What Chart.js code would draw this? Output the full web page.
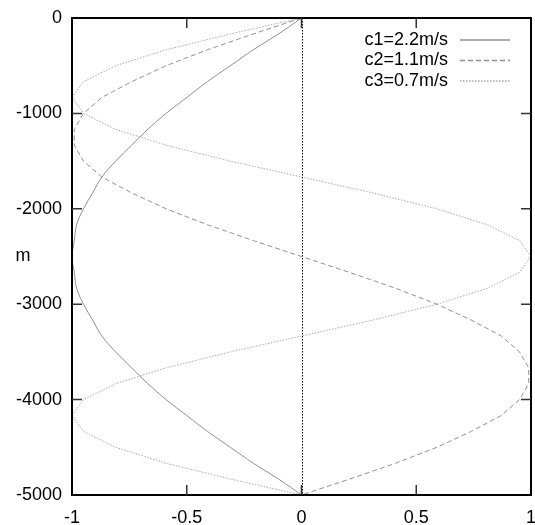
<!DOCTYPE html>
<html>
<head>
<meta charset="utf-8">
<script src="https://cdn.jsdelivr.net/npm/chart.js@4"></script>
<style>
  html, body { margin: 0; padding: 0; background: #fff; }
  #wrap { width: 535px; height: 525px; }
</style>
</head>
<body>
<div id="wrap"><canvas id="chart" width="535" height="525"></canvas></div>
<script>
// depth samples (m), 30 intervals over 5000 m
const depth = [0, -167, -333, -500, -667, -833, -1000, -1167, -1333, -1500, -1667,
  -1833, -2000, -2167, -2333, -2500, -2667, -2833, -3000, -3167, -3333,
  -3500, -3667, -3833, -4000, -4167, -4333, -4500, -4667, -4833, -5000];

const c1 = [0, -0.10, -0.21, -0.31, -0.41, -0.50, -0.59, -0.67, -0.74, -0.81, -0.87,
  -0.91, -0.95, -0.98, -0.99, -1.00, -0.99, -0.98, -0.95, -0.91, -0.87,
  -0.81, -0.74, -0.67, -0.59, -0.50, -0.41, -0.31, -0.21, -0.10, 0];

const c2 = [0, -0.21, -0.41, -0.59, -0.74, -0.87, -0.95, -0.99, -0.99, -0.95, -0.87,
  -0.74, -0.59, -0.41, -0.21, 0, 0.21, 0.41, 0.59, 0.74, 0.87,
  0.95, 0.99, 0.99, 0.95, 0.87, 0.74, 0.59, 0.41, 0.21, 0];

const c3 = [0, -0.31, -0.59, -0.81, -0.95, -1.00, -0.95, -0.81, -0.59, -0.31, 0,
  0.31, 0.59, 0.81, 0.95, 1.00, 0.95, 0.81, 0.59, 0.31, 0,
  -0.31, -0.59, -0.81, -0.95, -1.00, -0.95, -0.81, -0.59, -0.31, 0];

const seriesNames = ["c1=2.2m/s", "c2=1.1m/s", "c3=0.7m/s"];
const xTicks = [-1, -0.5, 0, 0.5, 1];
const yTicks = [0, -1000, -2000, -3000, -4000, -5000];
const yTitle = "m";

const FONT = "Liberation Sans, Arial, sans-serif";
const lineStyles = [
  { color: "#909090", dash: [], tension: 0.35 },
  { color: "#909090", dash: [5, 3], tension: 0 },
  { color: "#a8a8a8", dash: [1.5, 1.5], tension: 0 },
];

function toPoints(vals) {
  return vals.map((v, i) => ({ x: v, y: depth[i] }));
}

// frame, inward ticks, zero axis, legend and the horizontal "m" label
const framePlugin = {
  id: "frame",
  afterDatasetsDraw(chart) {
    const { ctx, chartArea: a, scales } = chart;
    const xs = scales.x, ys = scales.y;
    ctx.save();

    // dotted zero axis
    ctx.strokeStyle = "#000";
    ctx.lineWidth = 1;
    ctx.setLineDash([1.5, 1.5]);
    const x0 = Math.round(xs.getPixelForValue(0)) + 0.5;
    ctx.beginPath();
    ctx.moveTo(x0, a.top);
    ctx.lineTo(x0, a.bottom);
    ctx.stroke();
    ctx.setLineDash([]);

    // border
    ctx.lineWidth = 2;
    ctx.strokeRect(a.left, a.top, a.right - a.left, a.bottom - a.top);

    // inward ticks
    const tl = 10;
    ctx.strokeStyle = "#333";
    ctx.lineWidth = 1.5;
    ctx.beginPath();
    xTicks.forEach(v => {
      if (v === xs.min || v === xs.max) return;
      const px = xs.getPixelForValue(v);
      ctx.moveTo(px, a.bottom); ctx.lineTo(px, a.bottom - tl);
      ctx.moveTo(px, a.top); ctx.lineTo(px, a.top + tl);
    });
    yTicks.forEach(v => {
      if (v === ys.min || v === ys.max) return;
      const py = ys.getPixelForValue(v);
      ctx.moveTo(a.left, py); ctx.lineTo(a.left + tl, py);
      ctx.moveTo(a.right, py); ctx.lineTo(a.right - tl, py);
    });
    ctx.stroke();

    // axis title, horizontal
    ctx.fillStyle = "#000";
    ctx.font = "18px " + FONT;
    ctx.textAlign = "center";
    ctx.textBaseline = "middle";
    ctx.fillText(yTitle, 23, (a.top + a.bottom) / 2);

    // legend
    ctx.textAlign = "right";
    chart.data.datasets.forEach((ds, i) => {
      const y = 40 + i * 20.5;
      ctx.fillStyle = "#000";
      ctx.fillText(ds.label, 448, y);
      ctx.strokeStyle = lineStyles[i].color;
      ctx.lineWidth = 1.5;
      ctx.setLineDash(lineStyles[i].dash);
      ctx.beginPath();
      ctx.moveTo(460, y);
      ctx.lineTo(510, y);
      ctx.stroke();
    });
    ctx.restore();
  }
};

const datasets = [c1, c2, c3].map((vals, i) => ({
  label: seriesNames[i],
  data: toPoints(vals),
  showLine: true,
  borderColor: lineStyles[i].color,
  borderDash: lineStyles[i].dash,
  borderWidth: 1,
  pointRadius: 0,
  tension: lineStyles[i].tension,
  fill: false,
}));

new Chart(document.getElementById("chart").getContext("2d"), {
  type: "scatter",
  data: { datasets },
  options: {
    responsive: false,
    animation: false,
    devicePixelRatio: 1,
    layout: { padding: { top: 18, right: 4, left: 0, bottom: 0 } },
    plugins: { legend: { display: false }, tooltip: { enabled: false } },
    scales: {
      x: {
        type: "linear",
        min: -1, max: 1,
        afterBuildTicks(scale) { scale.ticks = xTicks.map(v => ({ value: v })); },
        afterFit(scale) { scale.height = 30; scale.paddingLeft = 0; scale.paddingRight = 0; },
        grid: { display: true, drawOnChartArea: false, drawTicks: false },
        border: { display: false },
        ticks: {
          padding: 12,
          maxRotation: 0,
          autoSkip: false,
          color: "#000",
          font: { family: FONT, size: 18 },
          callback: v => String(v),
        },
      },
      y: {
        type: "linear",
        min: -5000, max: 0,
        afterBuildTicks(scale) { scale.ticks = yTicks.map(v => ({ value: v })); },
        afterFit(scale) { scale.width = 72; scale.paddingTop = 0; scale.paddingBottom = 0; },
        grid: { display: true, drawOnChartArea: false, drawTicks: false },
        border: { display: false },
        ticks: {
          padding: 10,
          autoSkip: false,
          color: "#000",
          font: { family: FONT, size: 18 },
          callback: v => String(v),
        },
      },
    },
  },
  plugins: [framePlugin],
});
</script>
</body>
</html>
